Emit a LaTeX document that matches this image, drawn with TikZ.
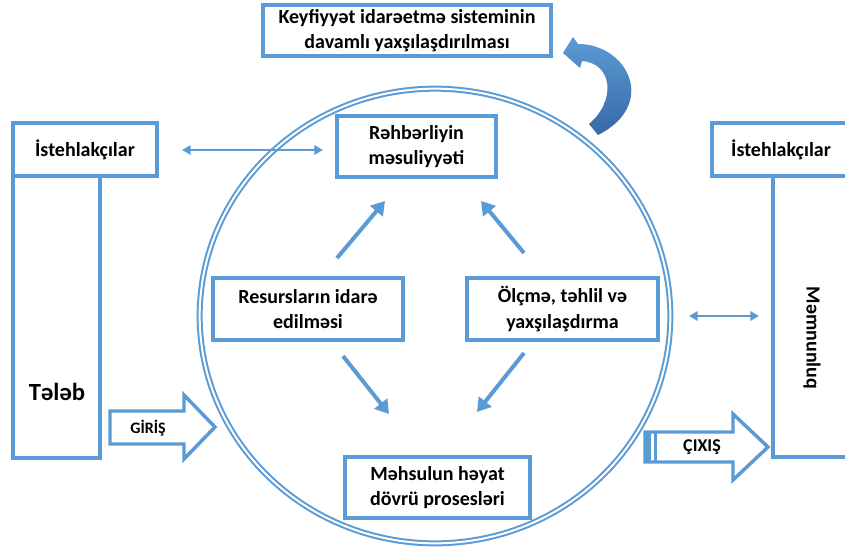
\documentclass[tikz,border=0pt]{standalone}
\usepackage{fontspec}
\setmainfont{Carlito}
\usetikzlibrary{shapes.geometric,arrows.meta}
\definecolor{cb}{RGB}{91,155,213}
\definecolor{cbd}{RGB}{55,105,165}
\tikzset{
  box/.style={draw=cb,line width=2.6pt,fill=white,align=center,inner sep=0pt,
    font=\bfseries\fontsize{15}{19}\selectfont},
  plain/.style={draw=cb,line width=2.6pt,fill=white,inner sep=0pt},
  diag/.style={draw=cb,line width=3pt,-{Triangle[length=10pt,width=12pt]}},
  dbl/.style={draw=cb,line width=1.6pt,{Triangle[length=6.5pt,width=7pt]}-{Triangle[length=6.5pt,width=7pt]}},
  blk/.style={draw=cb,line width=2.6pt,fill=white,line join=miter},
  lbl/.style={font=\bfseries\fontsize{12}{14}\selectfont,inner sep=0pt}
}
\begin{document}
\begin{tikzpicture}[x=0.75pt,y=-0.75pt]
\useasboundingbox (0,0) rectangle (845,550);
\clip (0,0) rectangle (845,550);
% big circle
\node[ellipse,draw=cb,line width=1.5pt,double=white,double distance=1.5pt,
  minimum width=353pt,minimum height=341pt,inner sep=0pt] (circ) at (435,316) {};
% top box
\node[box,minimum width=216pt,minimum height=38.25pt] (top) at (407,30.5)
  {Keyfiyyət idarəetmə sisteminin\\davamlı yaxşılaşdırılması};
% curved arrow
\shade[top color=cb,bottom color=cbd]
  (563,53) -- (573,37) -- (578,44)
  .. controls (628,44) and (658,105) .. (598,135)
  -- (589,124)
  .. controls (617,100) and (612,63) .. (582,61)
  -- (580,68) -- cycle;
% inner boxes
\node[box,minimum width=119.25pt,minimum height=45.75pt] (lead) at (416.5,146.5)
  {Rəhbərliyin\\məsuliyyəti};
\node[box,minimum width=142.5pt,minimum height=46.5pt] (res) at (308,309)
  {Resursların idarə\\edilməsi};
\node[box,minimum width=143.25pt,minimum height=46.5pt] (meas) at (562.5,309)
  {Ölçmə, təhlil və\\yaxşılaşdırma};
\node[box,minimum width=138.75pt,minimum height=45.75pt] (prod) at (437.5,487.5)
  {Məhsulun həyat\\dövrü prosesləri};
% left side
\node[plain,minimum width=65.25pt,minimum height=211.5pt] (ltall) at (56.5,317) {};
\node[box,minimum width=108pt,minimum height=39.75pt] (lcust) at (85,149.5) {İstehlakçılar};
\node[font=\bfseries\fontsize{18.5}{20}\selectfont,inner sep=0pt] (demand) at (57,392) {Tələb};
% right side
\node[plain,minimum width=57.75pt,minimum height=210.75pt] (rtall) at (811.5,316.5) {};
\node[box,minimum width=103.5pt,minimum height=39.75pt] (rcust) at (781,149.5) {İstehlakçılar};
\node[font=\bfseries\fontsize{15}{18}\selectfont,inner sep=0pt,rotate=-90] (sat) at (812,338) {Məmnunluq};
% horizontal double arrows
\coordinate (la1) at (182,150);
\coordinate (la2) at (323,150);
\draw[dbl] (la1) -- (la2);
\coordinate (ra1) at (689,316);
\coordinate (ra2) at (759,316);
\draw[dbl] (ra1) -- (ra2);
% diagonal arrows
\coordinate (d1s) at (337,258); \coordinate (d1e) at (385,201);
\coordinate (d2s) at (524,253); \coordinate (d2e) at (481,201);
\coordinate (d3s) at (343,356); \coordinate (d3e) at (389,414);
\coordinate (d4s) at (524,353); \coordinate (d4e) at (477,412);
\draw[diag] (d1s) -- (d1e);
\draw[diag] (d2s) -- (d2e);
\draw[diag] (d3s) -- (d3e);
\draw[diag] (d4s) -- (d4e);
% GIRIS block arrow
\draw[blk] (110,411) -- (184,411) -- (184,395) -- (215,427) -- (184,459) -- (184,444) -- (110,444) -- cycle;
\node[lbl] (giris) at (148,428) {GİRİŞ};
% CIXIS block arrow
\draw[blk] (645,432) -- (733,432) -- (733,414) -- (768,447) -- (733,480) -- (733,462) -- (645,462) -- cycle;
\fill[cb] (644,431) rectangle (651,463);
\fill[cb] (653.5,431) rectangle (656.5,463);
\node[lbl,font=\bfseries\fontsize{13.5}{15}\selectfont] (cixis) at (702,447) {ÇIXIŞ};
\end{tikzpicture}
\end{document}
